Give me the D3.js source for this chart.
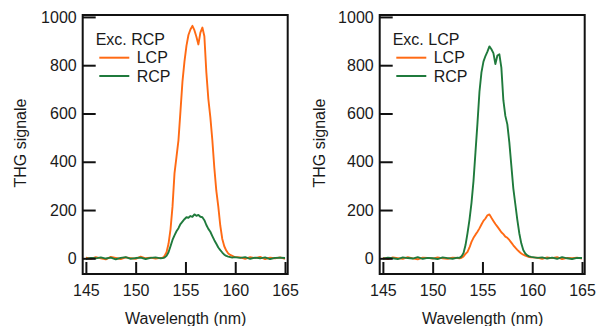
<!DOCTYPE html>
<html>
<head>
<meta charset="utf-8">
<script src="https://cdn.jsdelivr.net/npm/d3@7"></script>
<style>
  body { margin: 0; background: #fff; }
  text { font-family: "Liberation Sans", Arial, sans-serif; fill: #1a1a1a; }
</style>
</head>
<body>
<div id="chart"></div>
<script>
// wavelength grid (nm), shared by all four spectra
var wavelength = [145, 145.5, 146, 146.5, 147, 147.5, 148, 148.5, 149, 149.5, 150, 150.5, 151, 151.5, 152, 152.5,
  152.7, 152.9, 153.1, 153.3, 153.5, 153.7, 153.9, 154.1, 154.3, 154.5, 154.7, 154.9, 155.1, 155.3, 155.5,
  155.7, 155.9, 156.1, 156.3, 156.5, 156.7, 156.9, 157.1, 157.3, 157.5, 157.7, 157.9, 158.1, 158.3, 158.5,
  158.7, 158.9, 159.1, 159.3, 159.5, 159.7, 159.9,
  160.5, 161, 161.5, 162, 162.5, 163, 163.5, 164, 164.5, 165];

// Exc. RCP panel
var rcpExcLCP = [3, -2, 5, 0, -4, 6, 2, -3, 4, 1, -2, 7, 0, 3, -1, 2,
  2, 10, 25, 60, 120, 214, 352, 420, 490, 610, 732, 815, 880, 925, 948,
  963, 945, 918, 886, 935, 956, 920, 770, 660, 585, 490, 375, 280, 214, 135,
  80, 50, 32, 20, 14, 10, 6,
  4, -2, 5, 1, 6, -3, 3, 0, 4, -2];
var rcpExcRCP = [-3, 2, 0, 4, -1, 3, -4, 2, 5, -2, 1, 3, -3, 2, 4, 0,
  1, 3, 10, 25, 50, 76, 95, 112, 125, 142, 152, 162, 170, 168, 175,
  172, 182, 176, 180, 172, 170, 158, 138, 122, 110, 92, 75, 60, 45, 34,
  24, 15, 10, 7, 5, 3, 5,
  2, 5, -2, 3, 0, 4, -3, 2, 3, 1];

// Exc. LCP panel
var lcpExcLCP = [2, -3, 4, 1, -2, 5, 0, -4, 3, 2, -1, 4, 0, -2, 3, 1,
  0, 2, 8, 18, 27, 45, 68, 85, 98, 110, 124, 140, 155, 165, 178,
  182, 168, 155, 142, 131, 120, 108, 100, 90, 85, 76, 65, 54, 44, 35,
  27, 20, 15, 11, 8, 5, 4,
  3, -2, 4, 1, 5, -3, 2, 0, 3, -1];
var lcpExcRCP = [-2, 3, 0, -3, 4, 1, -1, 5, -2, 2, 0, -3, 4, 1, -2, 3,
  2, 8, 22, 55, 104, 160, 230, 320, 440, 560, 690, 770, 815, 838, 856,
  878, 866, 850, 805, 840, 845, 790, 655, 590, 555, 480, 385, 290, 225, 160,
  104, 62, 34, 20, 12, 8, 6,
  2, 4, -1, 3, -2, 5, 0, -3, 2, 1];

var yTicks = [0, 200, 400, 600, 800, 1000];
var xTicks = [145, 150, 155, 160, 165];
var seriesNames = ["LCP", "RCP"];
var colors = ["#ff6a14", "#1f7a3c"];

var panels = [
  {title: "Exc. RCP", series: [rcpExcLCP, rcpExcRCP], left: 82.7},
  {title: "Exc. LCP", series: [lcpExcLCP, lcpExcRCP], left: 379.7}
];

var svgWidth = 597;
var svgHeight = 326;
var boxWidth = 205;
var boxTop = 15;
var boxBottom = 274;

var svg = d3.select("#chart")
  .append("svg")
  .attr("width", svgWidth)
  .attr("height", svgHeight);

var xScale = d3.scaleLinear().domain([144.68, 165.27]).range([0, boxWidth]);
var yScale = d3.scaleLinear().domain([-65, 1008]).range([boxBottom, boxTop]);

panels.forEach(function(p, pi) {
  var g = svg.append("g").attr("transform", `translate(${p.left}, 0)`);

  var line = d3.line()
    .x((d, i) => xScale(wavelength[i]))
    .y(d => yScale(d));

  p.series.forEach(function(vals, si) {
    g.append("path")
      .datum(vals)
      .attr("d", line)
      .attr("fill", "none")
      .attr("stroke", colors[si])
      .attr("stroke-width", 1.9)
      .attr("stroke-linejoin", "round");
  });

  var leftAxis = d3.axisLeft(yScale)
    .tickValues(yTicks)
    .tickFormat(d3.format("d"))
    .tickSizeInner(-13)
    .tickSizeOuter(0)
    .tickPadding(6);

  var bottomAxis = d3.axisBottom(xScale)
    .tickValues(xTicks)
    .tickFormat(d3.format("d"))
    .tickSizeInner(-12)
    .tickSizeOuter(0)
    .tickPadding(11);

  var ya = g.append("g").call(leftAxis);
  var xa = g.append("g").attr("transform", `translate(0, ${boxBottom})`).call(bottomAxis);

  [ya, xa].forEach(function(a) {
    a.select(".domain").remove();
    a.selectAll(".tick line").attr("stroke", "#111").attr("stroke-width", 2);
    a.selectAll(".tick text")
      .attr("font-size", "16px")
      .attr("fill", "#1a1a1a")
      .attr("font-family", "'Liberation Sans', Arial, sans-serif");
  });

  g.append("rect")
    .attr("x", 0)
    .attr("y", boxTop)
    .attr("width", boxWidth)
    .attr("height", boxBottom - boxTop)
    .attr("fill", "none")
    .attr("stroke", "#111")
    .attr("stroke-width", 2);

  // axis titles
  g.append("text")
    .attr("transform", `translate(${-57 + pi * 2.5}, 143) rotate(-90)`)
    .attr("text-anchor", "middle")
    .attr("font-size", "16px")
    .text("THG signale");

  g.append("text")
    .attr("x", 103)
    .attr("y", 324)
    .attr("text-anchor", "middle")
    .attr("font-size", "16px")
    .text("Wavelength (nm)");

  // legend
  g.append("text")
    .attr("x", 13)
    .attr("y", 45)
    .attr("font-size", "16px")
    .text(p.title);

  seriesNames.forEach(function(name, si) {
    var ly = 57.7 + si * 18.3;
    g.append("line")
      .attr("x1", 16.6).attr("x2", 46.6)
      .attr("y1", ly).attr("y2", ly)
      .attr("stroke", colors[si])
      .attr("stroke-width", 2);
    g.append("text")
      .attr("x", 54)
      .attr("y", ly + 5.7)
      .attr("font-size", "16px")
      .text(name);
  });
});
</script>
</body>
</html>
